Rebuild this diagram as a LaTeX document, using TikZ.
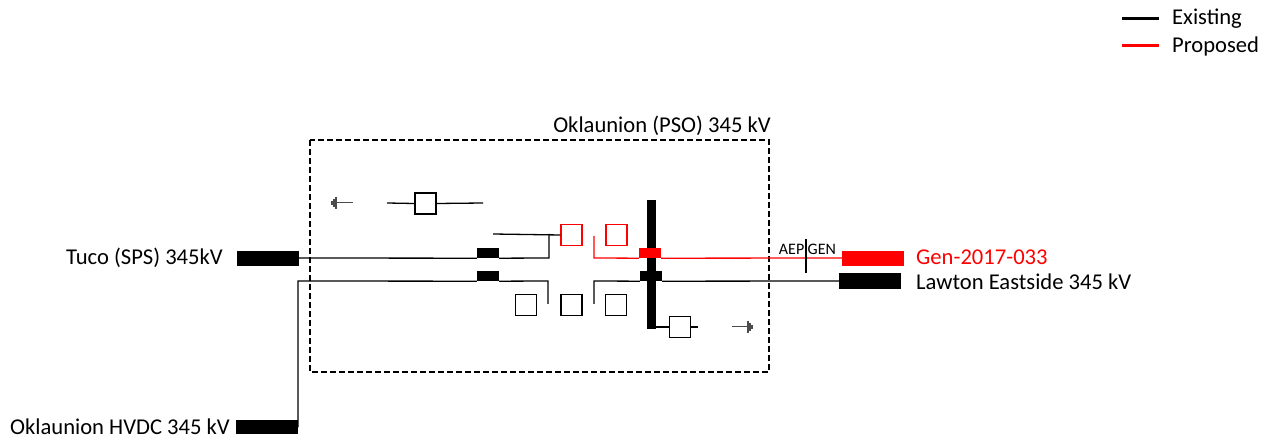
\documentclass[tikz,border=0pt]{standalone}
\usepackage{fontspec}
\setmainfont{Carlito}
\begin{document}
\begin{tikzpicture}[x=1pt,y=-1pt,
  lbl/.style={inner sep=0pt,font=\fontsize{22.6}{26}\selectfont},
  small/.style={inner sep=0pt,font=\fontsize{16}{19}\selectfont},
  blk/.style={draw=none,fill=black,minimum width=62pt,minimum height=15pt,inner sep=0pt},
  rblk/.style={blk,fill=red},
  brk/.style={draw=none,fill=black,minimum width=22pt,minimum height=10pt,inner sep=0pt},
  rbrk/.style={brk,fill=red},
  sq/.style={draw=black,line width=1.4pt,minimum width=21pt,minimum height=21pt,inner sep=0pt},
  rsq/.style={sq,draw=red},
  ln/.style={line width=1.3pt,black},
  rln/.style={line width=1.3pt,red},
  gnd/.style={line width=1pt,gray!60!black}
]
\useasboundingbox (0,0) rectangle (1276,443);

% legend
\coordinate (le1) at (1122,19); \coordinate (le2) at (1159,19);
\coordinate (lp1) at (1122,46); \coordinate (lp2) at (1159,46);
\draw[line width=3pt,black] (le1) -- (le2);
\draw[line width=3pt,red] (lp1) -- (lp2);
\node[lbl,anchor=west] (lex) at (1172,19) {Existing};
\node[lbl,anchor=west] (lpr) at (1172,46) {Proposed};

% station box
\draw[line width=1.4pt,dash pattern=on 6pt off 3pt] (310,140) rectangle (769,372);
\node[lbl] (stn) at (662,126) {Oklaunion (PSO) 345 kV};

% terminals
\node[blk] (tuco) at (268,258.5) {};
\node[blk,minimum height=14pt] (hvdc) at (267,427) {};
\node[rblk] (gen) at (873,258.5) {};
\node[blk,minimum height=16pt] (law) at (870,281) {};
\node[lbl,anchor=east] (tucot) at (223,258) {Tuco (SPS) 345kV};
\node[lbl,anchor=east] (hvdct) at (230,427) {Oklaunion HVDC 345 kV};
\node[lbl,anchor=west,text=red] (gent) at (916,257) {Gen-2017-033};
\node[lbl,anchor=west] (lawt) at (916,282) {Lawton Eastside 345 kV};

% bus and breakers
\node[draw=none,fill=black,minimum width=9pt,minimum height=129pt,inner sep=0pt] (bus) at (651.5,264.5) {};
\node[brk] (b1) at (488,253) {};
\node[brk] (b2) at (488,276) {};
\node[rbrk] (b3) at (650,253) {};
\node[brk] (b4) at (651,276) {};

% switch boxes
\node[sq] (s0) at (425.5,203.5) {};
\node[rsq] (r1) at (571.5,235) {};
\node[rsq] (r2) at (616.5,235) {};
\node[sq] (s1) at (526,305) {};
\node[sq] (s2) at (571.5,305) {};
\node[sq] (s3) at (616,305) {};
\node[sq] (s4) at (680,327) {};

% coordinates
\coordinate (a1) at (387,203); \coordinate (a2) at (483,203);
\coordinate (c1) at (493,234); \coordinate (c2) at (549,234); \coordinate (c3) at (549,258);
\coordinate (d1) at (298,281); \coordinate (d2) at (548,281); \coordinate (d3) at (548,304);
\coordinate (e1) at (594,236); \coordinate (e2) at (594,258);
\coordinate (f1) at (594,304); \coordinate (f2) at (594,281);
\coordinate (g1) at (698,327);
\coordinate (t1) at (806,239); \coordinate (t2) at (806,273);

% lines
\draw[ln] (a1) -- (s0.west); \draw[ln] (s0.east) -- (a2);
\draw[ln] (tuco.east |- 0,258) -- (b1.south west);
\draw[ln] (b1.south east) -- (c3) -- (c2);
\draw[ln] (c1) -- (r1.west);
\draw[ln] (hvdc.east) -| (d1) -- (b2.south west);
\draw[ln] (b2.south east) -- (d2) -- (d3);
\draw[rln] (e1) -- (e2) -- (b3.south west);
\draw[rln] (b3.south east) -- (gen.west |- 0,258);
\draw[ln] (f1) -- (f2) -- (b4.south west);
\draw[ln] (b4.south east) -- (law.west);
\draw[ln] (bus.south east |- 0,327) -- (s4.west);
\draw[ln] (s4.east) -- (g1);
\draw[line width=1.2pt] (t1) -- (t2);
\node[small,anchor=south east] (aep) at (804.5,255) {AEP};
\node[small,anchor=south west] (gentag) at (807.5,255) {GEN};

% ground symbols
\coordinate (gl1) at (353,203); \coordinate (gl2) at (336,203);
\draw[gnd] (gl1) -- (gl2);
\draw[gnd,line width=1.2pt] (336,197) -- (336,209);
\draw[gnd,line width=1.2pt] (334,199) -- (334,207);
\draw[gnd,line width=1.2pt] (332,201) -- (332,205);
\coordinate (gr1) at (732,327); \coordinate (gr2) at (748,327);
\draw[gnd] (gr1) -- (gr2);
\draw[gnd,line width=1.2pt] (748,321) -- (748,333);
\draw[gnd,line width=1.2pt] (750,323) -- (750,331);
\draw[gnd,line width=1.2pt] (752,325) -- (752,329);
\end{tikzpicture}
\end{document}
